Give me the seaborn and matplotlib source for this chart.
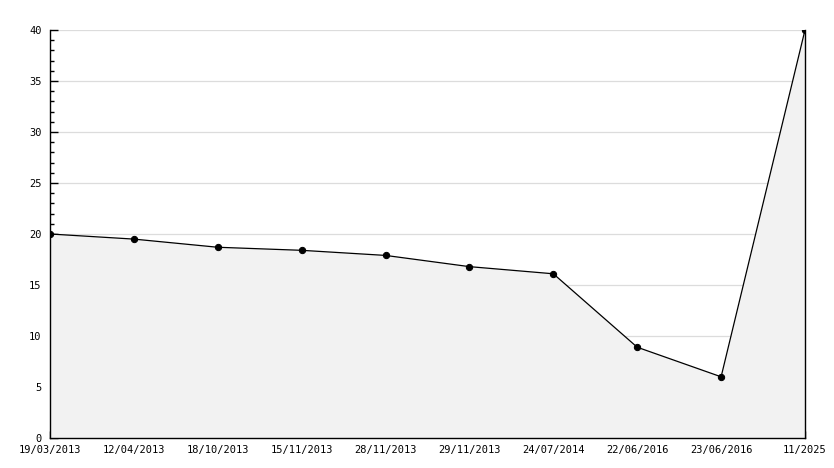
import matplotlib
matplotlib.use("Agg")
import matplotlib.pyplot as plt
import seaborn as sns
import numpy as np
import pandas as pd
from matplotlib.ticker import MultipleLocator

dates = ["19/03/2013", "12/04/2013", "18/10/2013", "15/11/2013", "28/11/2013",
         "29/11/2013", "24/07/2014", "22/06/2016", "23/06/2016", "11/2025"]
values = [20.0, 19.5, 18.7, 18.4, 17.9, 16.8, 16.1, 8.9, 6.0, 40.0]

sns.set_style("white")
plt.rcParams['font.family'] = ['DejaVu Sans Mono', 'DejaVu Sans']

df = pd.DataFrame({"pos": np.arange(len(dates)), "value": values})

fig = plt.figure(figsize=(8.34, 4.68), dpi=100)
ax = fig.add_axes([50/834, 30/468, 755/834, 408/468])

ax.fill_between(df["pos"], df["value"], 0, color="#f2f2f2", linewidth=0, zorder=1)
sns.lineplot(data=df, x="pos", y="value", ax=ax, color="black", linewidth=0.9,
             marker="o", markersize=4.5, markeredgecolor="black", zorder=3)

ax.set_xlim(0, len(dates) - 1)
ax.set_ylim(0, 40)
ax.yaxis.set_major_locator(MultipleLocator(5))
ax.yaxis.set_minor_locator(MultipleLocator(1))
ax.set_xticks(df["pos"])
ax.set_xticklabels(dates)
ax.grid(axis="y", which="major", color="#dcdcdc", linewidth=0.9, zorder=0)
ax.set_axisbelow(True)

ax.spines["top"].set_visible(False)
for s in ["left", "bottom", "right"]:
    ax.spines[s].set_color("black")
    ax.spines[s].set_linewidth(1.0)

ax.tick_params(axis="y", which="major", direction="in", length=6, width=1,
               labelsize=7.5, pad=6, left=True, right=False, labelcolor="black", color="black")
ax.tick_params(axis="y", which="minor", direction="in", length=3, width=1,
               left=True, right=False, color="black")
ax.tick_params(axis="x", which="major", direction="in", length=5, width=1,
               labelsize=7.5, pad=5, bottom=True, labelcolor="black", color="black")
for lbl in ax.get_yticklabels():
    lbl.set_verticalalignment("center_baseline")
ax.set_xlabel("")
ax.set_ylabel("")

fig.savefig("out.png", dpi=100)
